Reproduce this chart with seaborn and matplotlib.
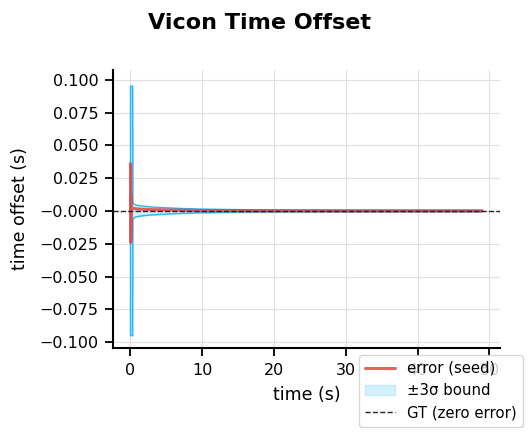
import numpy as np
import matplotlib
matplotlib.use("Agg")
import matplotlib.pyplot as plt
import seaborn as sns

# time offset estimate error vs. time, with 3-sigma envelope
err_t = [0.0, 0.01, 0.02, 0.03, 0.04, 0.05, 0.06, 0.08, 0.1, 0.15, 0.2,
         0.3, 0.5, 1.0, 2.0, 3.0, 5.0, 8.0, 10.0, 15.0, 20.0, 30.0, 40.0, 49.0]
err_val = [0.036, -0.022, 0.034, -0.024, 0.012, -0.016, 0.007, -0.009,
           0.004, 0.003, 0.0025, 0.002, 0.0018, 0.0015, 0.0012, 0.001,
           0.0008, 0.0005, 0.0003, 0.0002, 0.0001, 0.0, 0.0, 0.0]

bound_t = [0.0, 0.3, 0.33, 0.4, 0.6, 1.0, 2.0, 3.0, 5.0, 7.0, 10.0,
           15.0, 20.0, 30.0, 40.0, 49.0]
bound_3s = [0.095, 0.095, 0.007, 0.0055, 0.0048, 0.0042, 0.0035, 0.003,
            0.0024, 0.0019, 0.0014, 0.001, 0.0008, 0.0007, 0.0006, 0.0006]

sns.set_style('ticks', {'axes.grid': True, 'grid.color': '#e0e0e0'})
plt.rcParams.update({'text.color': 'black', 'axes.labelcolor': 'black',
                     'xtick.color': 'black', 'ytick.color': 'black',
                     'axes.edgecolor': 'black'})

fig, ax = plt.subplots(figsize=(5.3, 4.34), dpi=100)
fig.subplots_adjust(left=0.213, right=0.943, top=0.839, bottom=0.198)

b = np.array(bound_3s)
sns.lineplot(x=err_t, y=err_val, ax=ax, color='#e53935', alpha=0.8,
             linewidth=2.2, label='error (seed)', legend=False)
ax.fill_between(bound_t, -b, b, facecolor='#81d4fa', edgecolor='#81d4fa',
                alpha=0.35, label='±3σ bound', zorder=1)
ax.fill_between(bound_t, -b, b, facecolor='none', edgecolor='#29b6f6',
                linewidth=1.0, zorder=1.5)
ax.axhline(0, color='#222222', linestyle='--', linewidth=1,
           label='GT (zero error)')

ax.set_ylim(-0.1045, 0.1075)
ax.set_xticks([0, 10, 20, 30, 40, 50])
yt = np.arange(-0.1, 0.1001, 0.025)
ax.set_yticks(yt)
ax.set_yticklabels([f'{v:.3f}'.replace('-', '\u2212') for v in yt])
ax.tick_params(labelsize=11.5, width=1.3, length=6, pad=4.5)
for s in ax.spines.values():
    s.set_linewidth(1.5)
sns.despine(ax=ax)

ax.set_xlabel('time (s)', fontsize=12.5, labelpad=6)
ax.set_ylabel('time offset (s)', fontsize=12.5, labelpad=7)
fig.suptitle('Vicon Time Offset', fontsize=16, fontweight='bold', x=0.49,
             y=0.97)

fig.legend(loc='lower right', fontsize=10.7, bbox_to_anchor=(1.0, 0.0))

fig.savefig('out.png', dpi=100)
